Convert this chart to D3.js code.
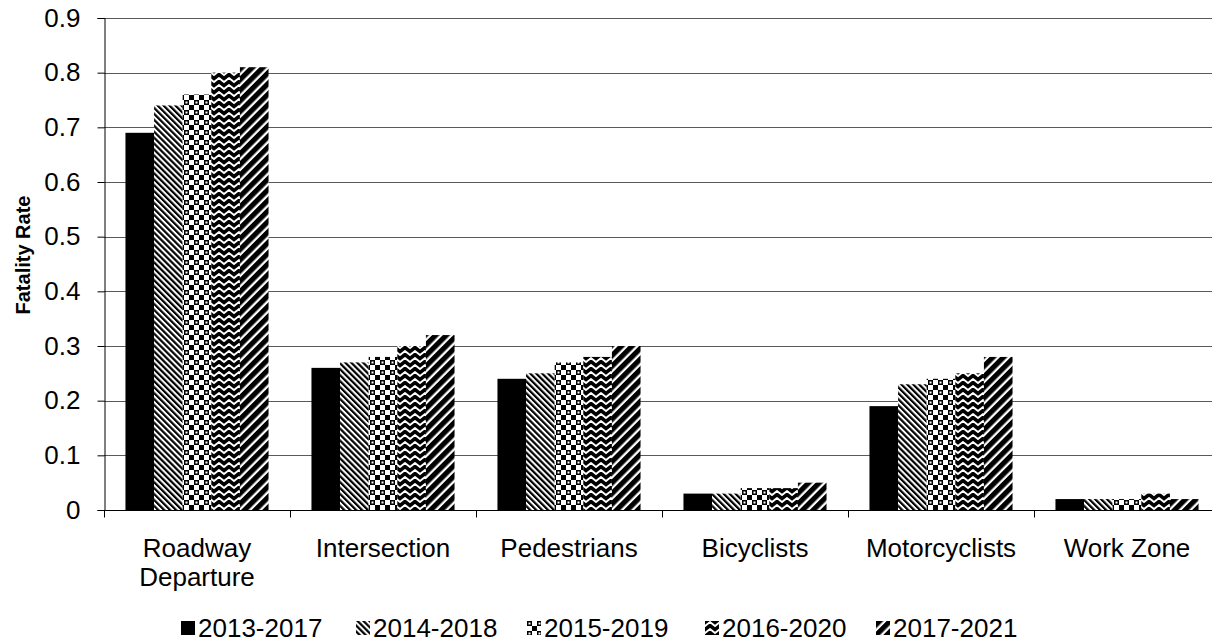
<!DOCTYPE html>
<html>
<head>
<meta charset="utf-8">
<script src="https://cdn.jsdelivr.net/npm/d3@7"></script>
<style>
  html, body { margin: 0; padding: 0; background: #fff; }
  svg { display: block; }
  text { font-family: "Liberation Sans", Arial, sans-serif; fill: #000; }
</style>
</head>
<body>
<svg id="chart" width="1212" height="643"></svg>
<script>
const categories = [["Roadway", "Departure"], ["Intersection"], ["Pedestrians"], ["Bicyclists"], ["Motorcyclists"], ["Work Zone"]];
const seriesNames = ["2013-2017", "2014-2018", "2015-2019", "2016-2020", "2017-2021"];
const s2013_2017 = [0.69, 0.26, 0.24, 0.03, 0.19, 0.02];
const s2014_2018 = [0.74, 0.27, 0.25, 0.03, 0.23, 0.02];
const s2015_2019 = [0.76, 0.28, 0.27, 0.04, 0.24, 0.02];
const s2016_2020 = [0.80, 0.30, 0.28, 0.04, 0.25, 0.03];
const s2017_2021 = [0.81, 0.32, 0.30, 0.05, 0.28, 0.02];
const yTicks = [0, 0.1, 0.2, 0.3, 0.4, 0.5, 0.6, 0.7, 0.8, 0.9];
const yLabel = "Fatality Rate";

const seriesValues = [s2013_2017, s2014_2018, s2015_2019, s2016_2020, s2017_2021];
const catKeys = categories.map(c => c.join(" "));

const svg = d3.select("#chart");
const defs = svg.append("defs");

// wide downward diagonal
{
  const p = defs.append("pattern").attr("id", "p1").attr("patternUnits", "userSpaceOnUse")
    .attr("width", 4.2).attr("height", 4.2).attr("patternTransform", "rotate(-45)");
  p.append("rect").attr("width", 4.2).attr("height", 4.2).attr("fill", "#fff");
  p.append("rect").attr("width", 2.2).attr("height", 4.2).attr("fill", "#000");
}
// checker with holes
{
  const p = defs.append("pattern").attr("id", "p2").attr("patternUnits", "userSpaceOnUse")
    .attr("width", 10).attr("height", 10);
  p.append("rect").attr("width", 10).attr("height", 10).attr("fill", "#fff");
  p.append("rect").attr("x", 0).attr("y", 0).attr("width", 5).attr("height", 5).attr("fill", "#000");
  p.append("rect").attr("x", 5).attr("y", 5).attr("width", 5).attr("height", 5).attr("fill", "#000");
  p.append("rect").attr("x", 1.5).attr("y", 1.5).attr("width", 2).attr("height", 2).attr("fill", "#fff");
}
// zigzag
{
  const p = defs.append("pattern").attr("id", "p3").attr("patternUnits", "userSpaceOnUse")
    .attr("width", 10).attr("height", 7);
  p.append("rect").attr("width", 10).attr("height", 7).attr("fill", "#000");
  p.append("path").attr("d", "M-5,1 L0,5 L5,1 L10,5 L15,1").attr("fill", "none")
    .attr("stroke", "#fff").attr("stroke-width", 1.8);
}
// wide upward diagonal
{
  const p = defs.append("pattern").attr("id", "p4").attr("patternUnits", "userSpaceOnUse")
    .attr("width", 7.5).attr("height", 7.5).attr("patternTransform", "rotate(45)");
  p.append("rect").attr("width", 7.5).attr("height", 7.5).attr("fill", "#fff");
  p.append("rect").attr("width", 5.2).attr("height", 7.5).attr("fill", "#000");
}
const fills = ["#000", "url(#p1)", "url(#p2)", "url(#p3)", "url(#p4)"];

const plotLeft = 104, catW = 186, plotTop = 18, plotBottom = 510;
const x0 = d3.scaleBand().domain(catKeys).range([plotLeft, plotLeft + catW * catKeys.length]);
const x1 = d3.scaleBand().domain(seriesNames).range([0, x0.bandwidth()]).paddingOuter(0.75);
const y = d3.scaleLinear().domain([0, 0.9]).range([plotBottom, plotTop]);

// gridlines
svg.append("g").selectAll("line").data(yTicks.filter(t => t > 0)).join("line")
  .attr("x1", plotLeft).attr("x2", 1212)
  .attr("y1", d => Math.round(y(d)) + 0.5).attr("y2", d => Math.round(y(d)) + 0.5)
  .attr("stroke", "#5a5a5a").attr("stroke-width", 1.2);

// bars
const groups = svg.append("g").selectAll("g").data(catKeys).join("g")
  .attr("transform", d => `translate(${x0(d)},0)`);
groups.selectAll("rect").data((d, i) => seriesNames.map((s, j) => ({ s, j, v: seriesValues[j][i] })))
  .join("rect")
  .attr("x", d => x1(d.s)).attr("width", x1.bandwidth())
  .attr("y", d => y(d.v)).attr("height", d => y(0) - y(d.v))
  .attr("fill", d => fills[d.j]);

// y axis
const yAxis = d3.axisLeft(y).tickValues(yTicks).tickSize(7).tickPadding(17)
  .tickFormat(d => d === 0 ? "0" : d3.format(".1f")(d));
const ya = svg.append("g").attr("transform", `translate(${plotLeft + 0.5},0)`).call(yAxis);
ya.select(".domain").attr("stroke", "#000");
ya.selectAll(".tick line").attr("stroke", "#000");
ya.selectAll("text").attr("font-size", 26).attr("font-family", "Liberation Sans, Arial, sans-serif").attr("fill", "#000");

// x axis
const xa = svg.append("g").attr("transform", `translate(0,${plotBottom + 0.5})`);
xa.append("line").attr("x1", plotLeft).attr("x2", 1212).attr("y1", 0).attr("y2", 0).attr("stroke", "#000");
const boundaries = catKeys.map(k => x0(k)).concat([x0(catKeys[catKeys.length - 1]) + x0.bandwidth()]);
xa.selectAll("line.tk").data(boundaries).join("line").attr("class", "tk")
  .attr("x1", d => Math.round(d) + 0.5).attr("x2", d => Math.round(d) + 0.5)
  .attr("y1", 0).attr("y2", 7).attr("stroke", "#000");
const labels = xa.selectAll("text.cat").data(categories).join("text").attr("class", "cat")
  .attr("text-anchor", "middle").attr("font-size", 26)
  .attr("transform", (d, i) => `translate(${x0(catKeys[i]) + x0.bandwidth() / 2},0)`);
labels.selectAll("tspan").data(d => d).join("tspan")
  .attr("x", 0).attr("y", (d, i) => 46 + i * 29).text(d => d);

// y label
svg.append("text").attr("transform", "translate(30,255) rotate(-90)")
  .attr("text-anchor", "middle").attr("font-size", 20).attr("font-weight", "bold").text(yLabel);

// legend
const legendX = [181, 356, 527, 705, 876];
const lg = svg.append("g").selectAll("g").data(seriesNames).join("g")
  .attr("transform", (d, i) => `translate(${legendX[i]},621)`);
lg.append("rect").attr("width", 14).attr("height", 14).attr("fill", (d, i) => fills[i]);
lg.append("text").attr("x", 17).attr("y", 16).attr("font-size", 26).text(d => d);
</script>
</body>
</html>
